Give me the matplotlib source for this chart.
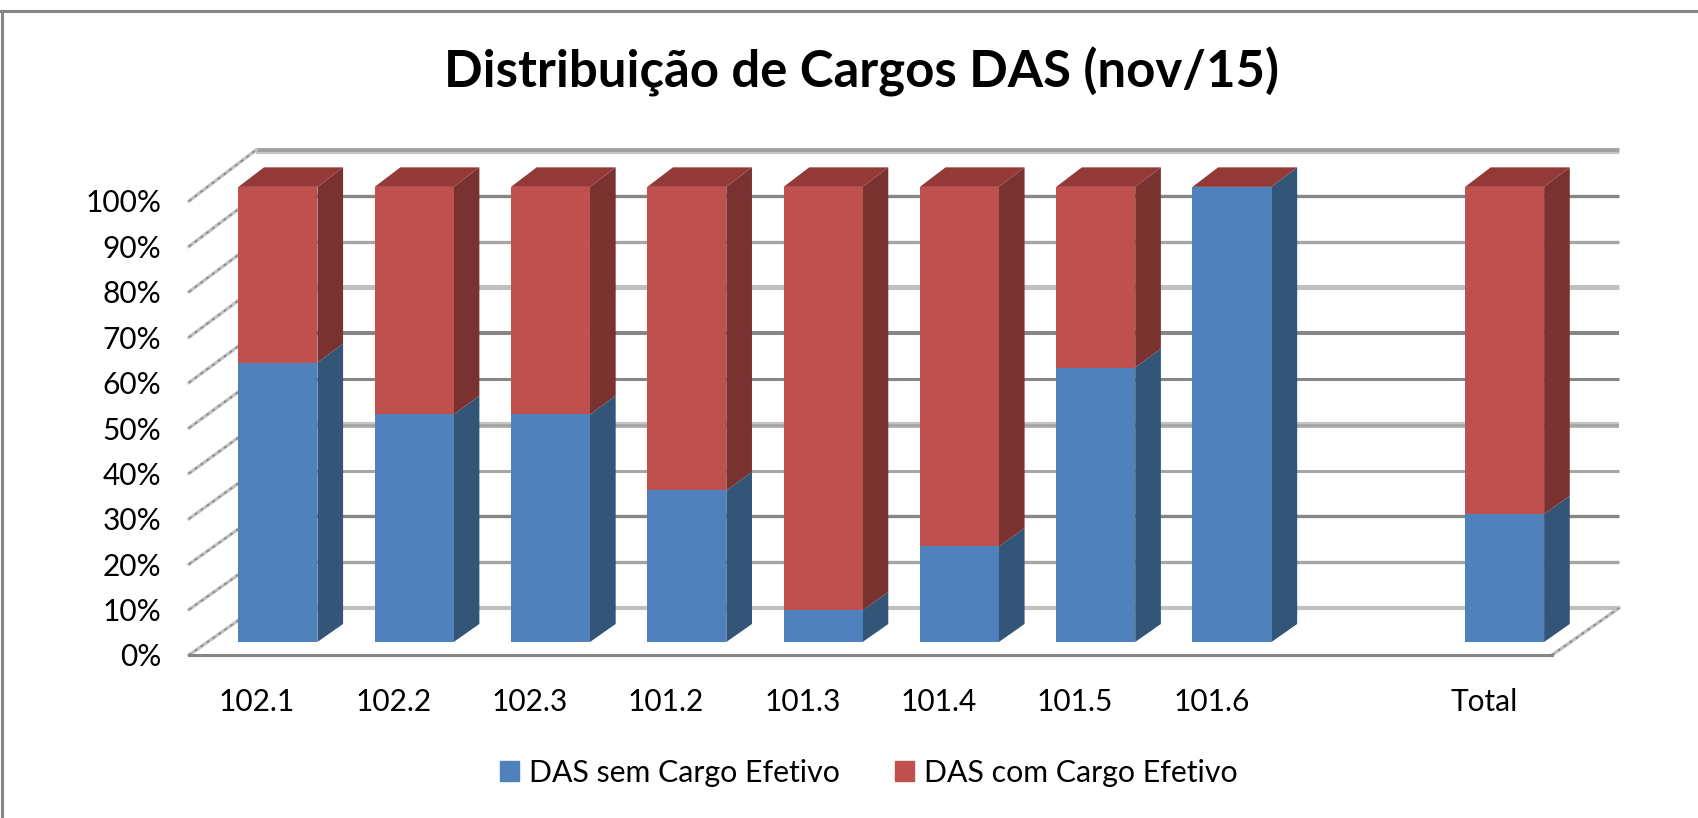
import matplotlib
matplotlib.use('Agg')
import matplotlib.pyplot as plt
from matplotlib.lines import Line2D
from matplotlib.patches import Patch
from matplotlib.ticker import PercentFormatter

categories = ['102.1', '102.2', '102.3', '101.2', '101.3', '101.4', '101.5', '101.6', 'Total']
positions = [0, 1, 2, 3, 4, 5, 6, 7, 9]
sem_cargo = [61.4, 50.0, 50.0, 33.3, 7.0, 21.0, 60.3, 100.0, 28.1]
com_cargo = [38.6, 50.0, 50.0, 66.7, 93.0, 79.0, 39.7, 0.0, 71.9]
levels = [0, 10, 20, 30, 40, 50, 60, 70, 80, 90, 100]

W, H = 1698, 818
FONT = 'Lato'
BLUE, BLUE_SIDE = '#4F81BD', '#325578'
RED, RED_SIDE, RED_TOP = '#C0504D', '#7A3230', '#933A38'

# back wall lines come out in different greys and widths in the original
grid_colors = ['#c0c0c0', '#a6a6a6', '#868686', '#a6a6a6', '#a6a6a6', '#868686',
               '#868686', '#c0c0c0', '#a6a6a6', '#868686', '#a0a0a0']
grid_widths = [3.0, 2.4, 2.4, 2.2, 4.0, 2.2, 2.9, 3.6, 2.4, 2.4, 3.4]

# oblique depth, in data units (categories, percent)
DEPTH_X = 67 / 136.3
DEPTH_Y = 47 / 454 * 100
D0, D1 = 0.277, 0.66


def proj(x, y, d):
    return x + d * DEPTH_X, y * (1 + 0.0088 * d) + d * DEPTH_Y


def face(ax, pts, color, z):
    xs = [p[0] for p in pts]
    ys = [p[1] for p in pts]
    ax.fill(xs, ys, color=color, lw=0, clip_on=False, zorder=z)


def wall_line(ax, p0, p1):
    ax.plot([p0[0], p1[0]], [p0[1], p1[1]], color='#c2c2c2', lw=2.4, clip_on=False, zorder=1)
    ax.plot([p0[0], p1[0]], [p0[1], p1[1]], color='#8a8a8a', lw=1.3, ls=(0, (1.6, 2.4)), clip_on=False, zorder=1)


fig = plt.figure(figsize=(W / 100, H / 100), dpi=100)
ax = fig.add_axes([189 / W, 1 - 655 / H, (1552 - 189) / W, (655 - 201) / H])
ax.set_xlim(-0.5, 9.5)
ax.set_ylim(0, 100)

# back wall and left wall
for lev, c, lw in zip(levels, grid_colors, grid_widths):
    x0, y0 = proj(-0.5, lev, 1)
    x1, y1 = proj(9.5, lev, 1)
    ax.plot([x0, x1], [y0, y1], color=c, lw=lw, solid_capstyle='butt', clip_on=False, zorder=1)
    wall_line(ax, proj(-0.5, lev, 0), (x0, y0))

# two tone lines at the top of the wall and at 40%
for lev, off in [(100, -0.55), (40, 0.5)]:
    x0, y0 = proj(-0.5, lev, 1)
    x1, y1 = proj(9.5, lev, 1)
    ax.plot([x0, x1], [y0 + off, y1 + off], color='#c4c4c4', lw=1.6, solid_capstyle='butt', clip_on=False, zorder=1)

# floor edge on the right
wall_line(ax, proj(9.5, 0, 0), proj(9.5, 0, 1))

# bars
for pos, a, b in zip(positions, sem_cargo, com_cargo):
    left, right = pos - 0.274, pos + 0.306
    top = a + b
    if a > 0:
        face(ax, [proj(left, 0, D0), proj(right, 0, D0), proj(right, a, D0), proj(left, a, D0)], BLUE, 4)
        face(ax, [proj(right, 0, D0), proj(right, 0, D1), proj(right, a, D1), proj(right, a, D0)], BLUE_SIDE, 3)
    if b > 0:
        face(ax, [proj(left, a, D0), proj(right, a, D0), proj(right, top, D0), proj(left, top, D0)], RED, 4)
        face(ax, [proj(right, a, D0), proj(right, a, D1), proj(right, top, D1), proj(right, top, D0)], RED_SIDE, 3)
    face(ax, [proj(left, top, D0), proj(right, top, D0), proj(right, top, D1), proj(left, top, D1)], RED_TOP, 3)

# axes
for s in ['top', 'left', 'right']:
    ax.spines[s].set_visible(False)
ax.spines['bottom'].set_color('#868686')
ax.spines['bottom'].set_linewidth(2.2)
ax.patch.set_visible(False)
ax.set_xticks(positions)
ax.set_xticklabels(categories)
ax.set_yticks(levels)
ax.yaxis.set_major_formatter(PercentFormatter(decimals=0))
ax.tick_params(axis='x', length=0, pad=23.5, labelsize=21.5)
ax.tick_params(axis='y', length=0, pad=20, labelsize=21.5)
for t in ax.get_xticklabels() + ax.get_yticklabels():
    t.set_fontfamily(FONT)
    t.set_color('black')

fig.text(861 / W, 1 - 72 / H, 'Distribuição de Cargos DAS (nov/15)', ha='center', va='center',
         fontsize=36.6, fontweight='bold', family=FONT, color='black')

handles = [Patch(color=BLUE, label='DAS sem Cargo Efetivo'), Patch(color=RED, label='DAS com Cargo Efetivo')]
fig.legend(handles=handles, loc='center', bbox_to_anchor=(868.6 / W, 1 - 773 / H), ncol=2, frameon=False,
           prop={'family': FONT, 'size': 21.8}, handlelength=0.63, handleheight=0.63, handletextpad=0.33,
           columnspacing=1.82, borderpad=0)

# chart area border: only top and left are in view
fig.add_artist(Line2D([0, 1], [1 - 11 / H, 1 - 11 / H], color='#868686', lw=2.2))
fig.add_artist(Line2D([1.5 / W, 1.5 / W], [0, 1 - 11 / H], color='#868686', lw=2.2))

fig.savefig('out.png', dpi=100)
